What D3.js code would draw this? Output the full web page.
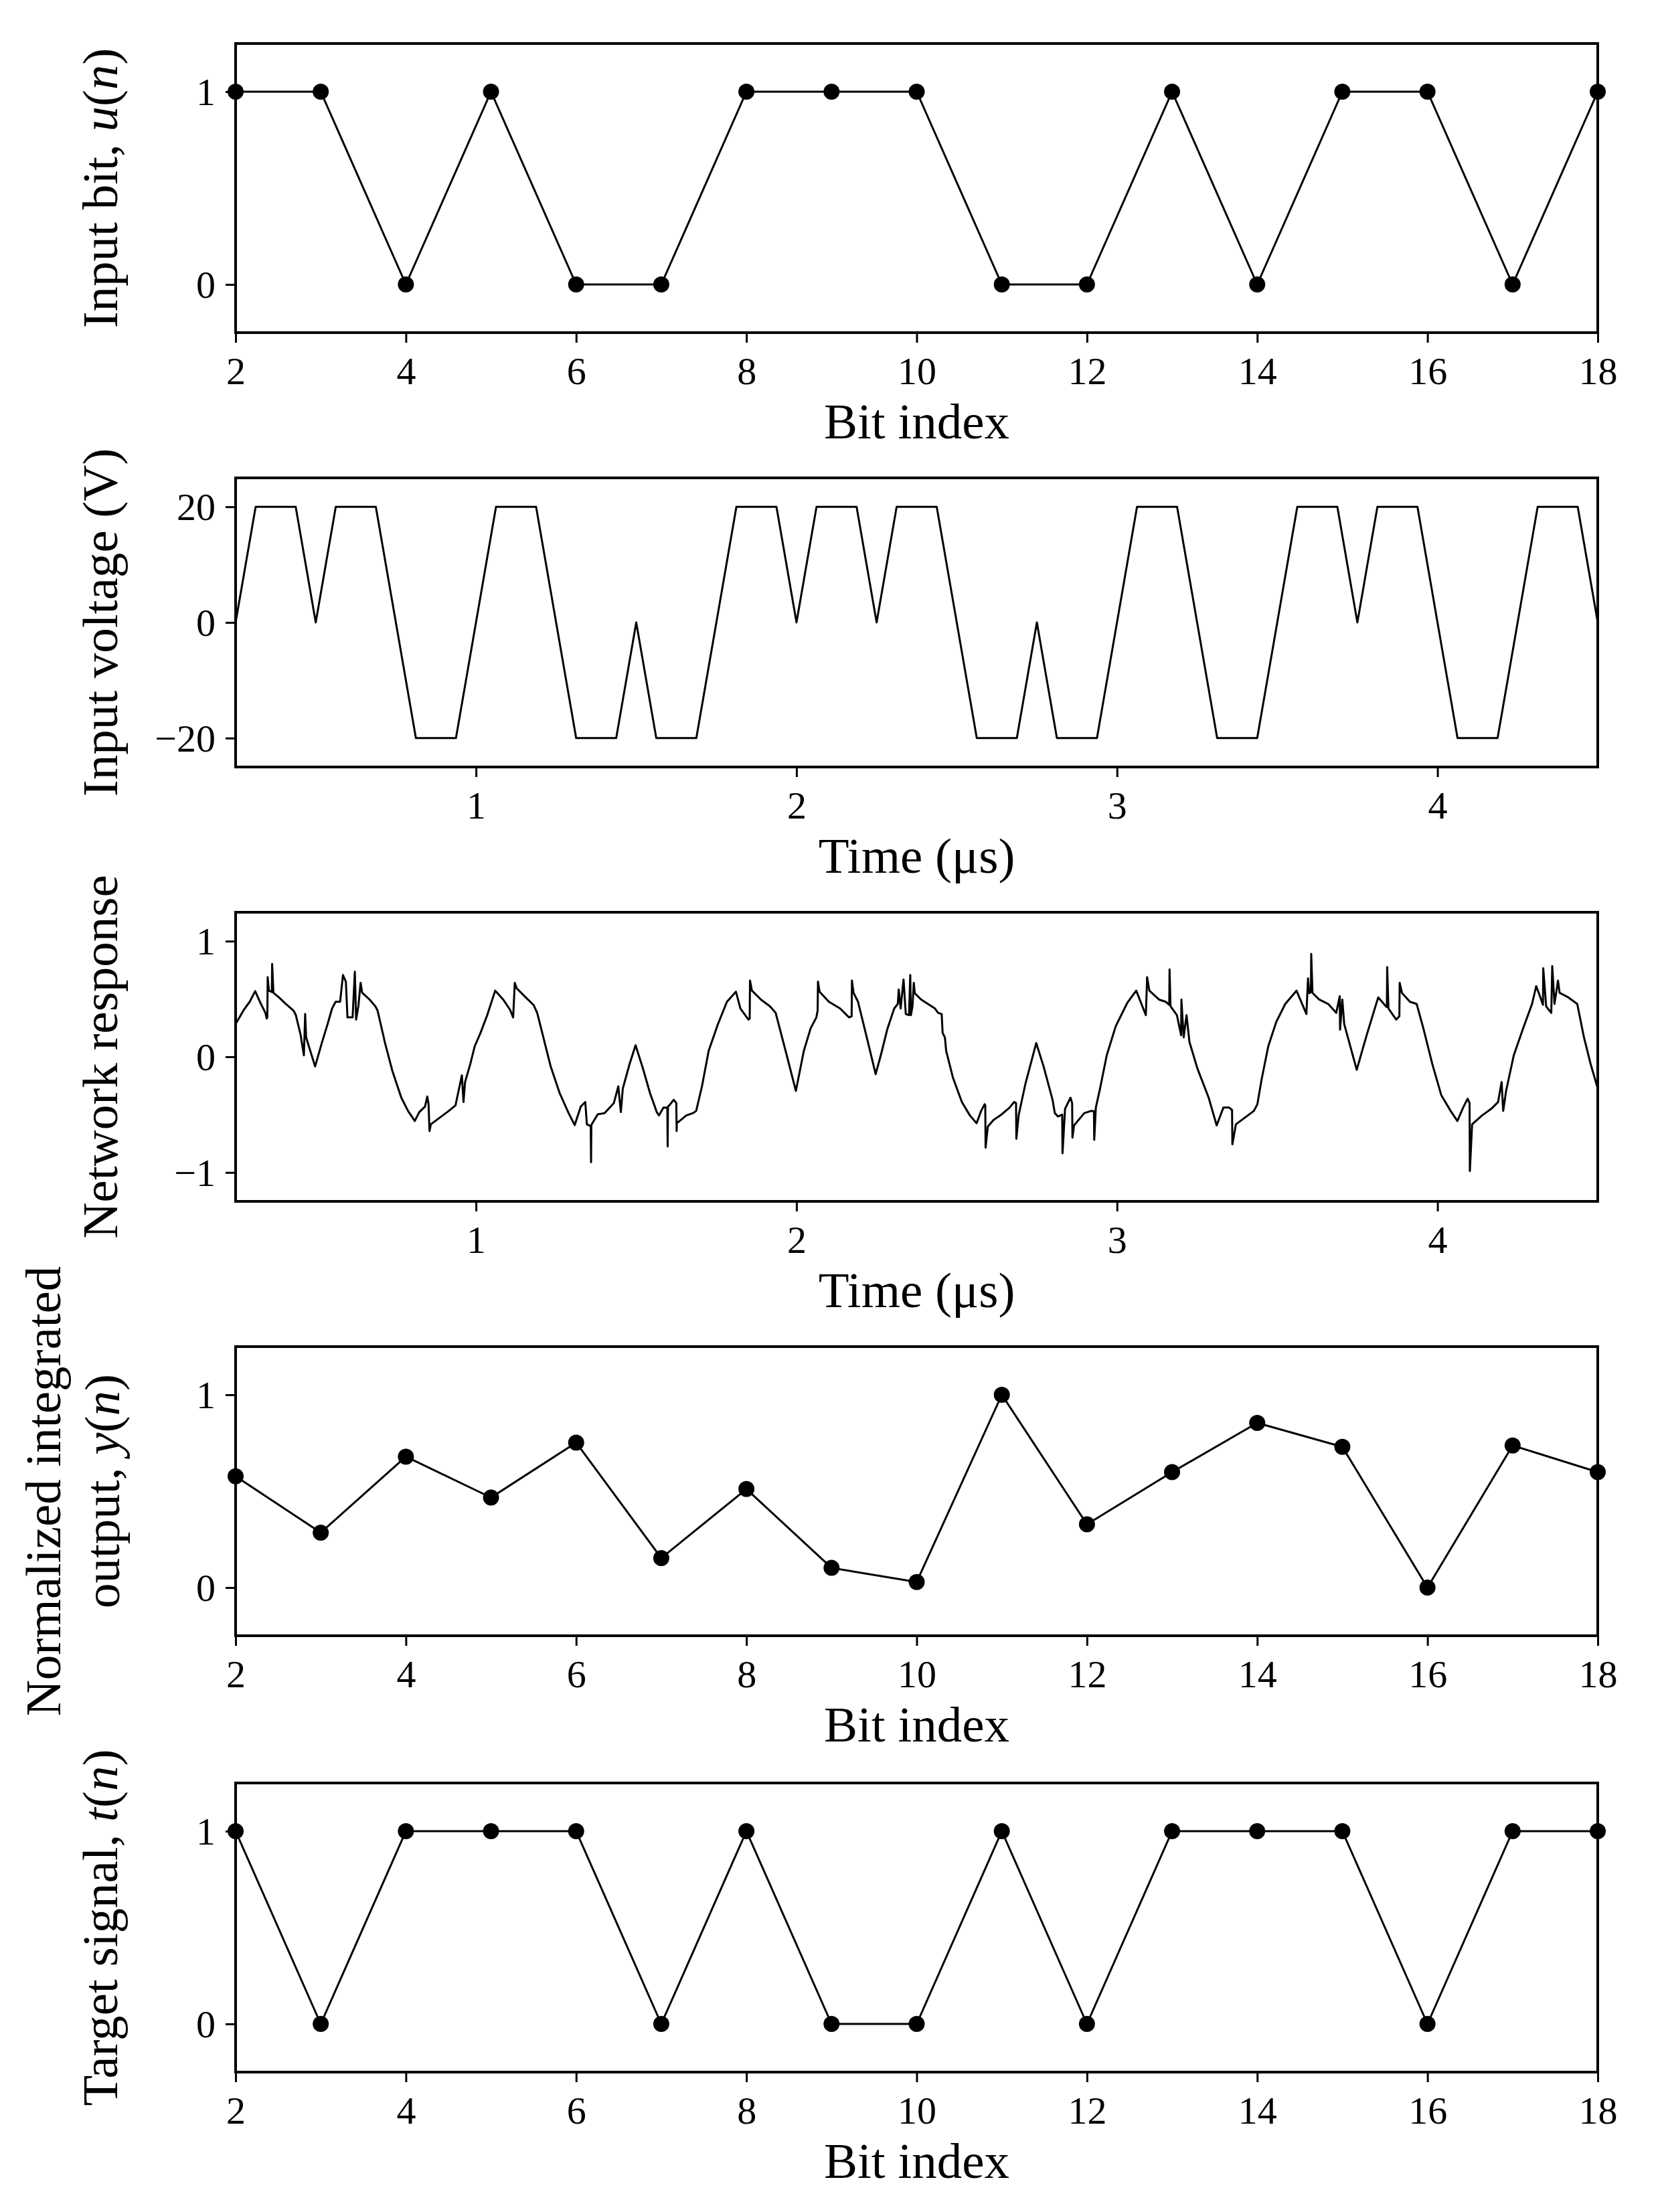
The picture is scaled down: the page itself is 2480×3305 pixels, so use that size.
<!DOCTYPE html>
<html>
<head>
<meta charset="utf-8">
<script src="https://cdn.jsdelivr.net/npm/d3@7"></script>
<style>
  html, body { margin: 0; padding: 0; background: #fff; }
  svg { display: block; }
  text { font-family: "Liberation Serif", "Times New Roman", serif; fill: #000; }
</style>
</head>
<body>
<svg id="chart" width="2480" height="3305"></svg>
<script>
// ---------------- DATA ----------------
const bitIndex = [2, 3, 4, 5, 6, 7, 8, 9, 10, 11, 12, 13, 14, 15, 16, 17, 18];
const inputBits = [1, 1, 0, 1, 0, 0, 1, 1, 1, 0, 0, 1, 0, 1, 1, 0, 1];
const integratedOutput = [0.577, 0.285, 0.679, 0.467, 0.752, 0.153, 0.511, 0.102, 0.029, 1.0, 0.328, 0.599, 0.854, 0.730, 0.0, 0.737, 0.599];
const targetSignal = [1, 0, 1, 1, 1, 0, 1, 0, 0, 1, 0, 1, 1, 1, 0, 1, 1];

const voltTime = [0.25, 0.3125, 0.4375, 0.5, 0.5625, 0.6875, 0.75, 0.8125, 0.9375, 1.0,
  1.0625, 1.1875, 1.25, 1.3125, 1.4375, 1.5, 1.5625, 1.6875, 1.75, 1.8125, 1.9375, 2.0,
  2.0625, 2.1875, 2.25, 2.3125, 2.4375, 2.5, 2.5625, 2.6875, 2.75, 2.8125, 2.9375, 3.0,
  3.0625, 3.1875, 3.25, 3.3125, 3.4375, 3.5, 3.5625, 3.6875, 3.75, 3.8125, 3.9375, 4.0,
  4.0625, 4.1875, 4.25, 4.3125, 4.4375, 4.5];
const voltValue = [0, 20, 20, 0, 20, 20, 0, -20, -20, 0,
  20, 20, 0, -20, -20, 0, -20, -20, 0, 20, 20, 0,
  20, 20, 0, 20, 20, 0, -20, -20, 0, -20, -20, 0,
  20, 20, 0, -20, -20, 0, 20, 20, 0, 20, 20, 0,
  -20, -20, 0, 20, 20, 0];

const respTime = [
  0.250, 0.276, 0.294, 0.311, 0.329, 0.343, 0.347, 0.349, 0.350, 0.354, 0.363, 0.364, 0.368, 0.385, 0.407, 0.431, 0.438, 0.453, 0.463, 0.467, 0.470, 0.498,
  0.520, 0.537, 0.551, 0.562, 0.576, 0.585, 0.594, 0.599, 0.615, 0.622, 0.626, 0.633, 0.640, 0.645, 0.668, 0.686, 0.693, 0.717, 0.739, 0.767, 0.788, 0.809,
  0.823, 0.841, 0.848, 0.852, 0.855, 0.859, 0.887, 0.915, 0.936, 0.950, 0.956, 0.961, 0.966, 0.982, 0.996, 1.014, 1.035, 1.060, 1.085, 1.106, 1.116, 1.121,
  1.127, 1.155, 1.180, 1.191, 1.212, 1.233, 1.261, 1.289, 1.308,
  1.327, 1.341, 1.346, 1.358, 1.359, 1.360, 1.363, 1.380, 1.401, 1.430, 1.444, 1.452, 1.458, 1.479, 1.498, 1.521, 1.543, 1.564, 1.571, 1.585, 1.597, 1.598,
  1.599, 1.603, 1.617, 1.625, 1.626, 1.627, 1.631, 1.656, 1.677, 1.687, 1.705, 1.726, 1.755, 1.783, 1.811, 1.825, 1.850, 1.854, 1.855, 1.861, 1.889, 1.917,
  1.935, 1.966, 1.998, 2.023, 2.044, 2.062, 2.066, 2.067, 2.072, 2.101, 2.136, 2.164, 2.172, 2.173, 2.178, 2.192, 2.221, 2.247, 2.263, 2.284, 2.305, 2.316,
  2.319, 2.325, 2.334, 2.341, 2.351, 2.355, 2.357, 2.362, 2.366, 2.369, 2.389, 2.410, 2.432, 2.442, 2.453, 2.456, 2.463, 2.467, 2.488, 2.516, 2.541, 2.562,
  2.576, 2.587, 2.589, 2.590, 2.597, 2.615, 2.636, 2.665, 2.679, 2.685, 2.686, 2.693, 2.714, 2.748, 2.771, 2.799, 2.806, 2.816, 2.829, 2.830, 2.838, 2.855,
  2.860, 2.861, 2.866, 2.898, 2.919, 2.928, 2.929, 2.934, 2.947, 2.968, 2.996, 3.032, 3.060, 3.090, 3.094, 3.101, 3.131, 3.152, 3.163, 3.164, 3.167, 3.187,
  3.200, 3.201, 3.208, 3.217, 3.226, 3.251, 3.286, 3.311, 3.332, 3.350, 3.359, 3.360, 3.371, 3.399, 3.427, 3.438, 3.451, 3.472, 3.497, 3.525, 3.560, 3.591,
  3.596, 3.600, 3.605, 3.606, 3.610, 3.631, 3.659, 3.684, 3.695, 3.696, 3.703, 3.709, 3.748, 3.779, 3.815, 3.839, 3.842, 3.843, 3.847, 3.871, 3.881, 3.882,
  3.889, 3.914, 3.935, 3.956, 3.984, 4.012, 4.041, 4.062, 4.080, 4.094, 4.100, 4.101, 4.108, 4.139, 4.168, 4.189, 4.200, 4.205, 4.214, 4.238, 4.267, 4.295,
  4.308, 4.316, 4.329, 4.330, 4.339, 4.344, 4.355, 4.358, 4.365, 4.376, 4.381, 4.408, 4.436, 4.457, 4.478, 4.496, 4.500];
const respValue = [
  0.283, 0.408, 0.476, 0.568, 0.457, 0.380, 0.331, 0.340, 0.688, 0.572, 0.560, 0.803, 0.553, 0.514, 0.457, 0.399, 0.360, 0.187, 0.013, 0.370, 0.168, -0.083,
  0.129, 0.283, 0.418, 0.476, 0.476, 0.707, 0.649, 0.341, 0.341, 0.736, 0.322, 0.437, 0.640, 0.553, 0.495, 0.437, 0.399, 0.110, -0.121, -0.353, -0.468, -0.555,
  -0.478, -0.430, -0.343, -0.410, -0.642, -0.584, -0.526, -0.468, -0.420, -0.237, -0.160, -0.391, -0.218, -0.064, 0.091, 0.206, 0.360, 0.572, 0.495, 0.408, 0.341, 0.640,
  0.592, 0.514, 0.447, 0.380, 0.148, -0.083, -0.314, -0.487, -0.590,
  -0.430, -0.391, -0.584, -0.600, -0.911, -0.590, -0.574, -0.497, -0.487, -0.401, -0.256, -0.478, -0.276, -0.064, 0.100, -0.102, -0.314, -0.478, -0.507, -0.439, -0.440, -0.776,
  -0.430, -0.420, -0.372, -0.400, -0.642, -0.560, -0.565, -0.507, -0.487, -0.468, -0.256, 0.052, 0.283, 0.476, 0.563, 0.418, 0.322, 0.330, 0.659, 0.572, 0.495, 0.437,
  0.380, 0.052, -0.295, 0.052, 0.245, 0.341, 0.400, 0.649, 0.563, 0.476, 0.418, 0.341, 0.350, 0.659, 0.553, 0.476, 0.148, -0.150, 0.013, 0.245, 0.418, 0.457,
  0.582, 0.418, 0.669, 0.370, 0.360, 0.707, 0.360, 0.437, 0.640, 0.550, 0.495, 0.457, 0.418, 0.380, 0.370, 0.206, 0.168, 0.052, -0.179, -0.391, -0.507, -0.574,
  -0.468, -0.410, -0.420, -0.786, -0.603, -0.545, -0.507, -0.439, -0.391, -0.400, -0.709, -0.507, -0.237, 0.119, -0.083, -0.372, -0.487, -0.516, -0.500, -0.834, -0.449, -0.353,
  -0.400, -0.699, -0.593, -0.487, -0.468, -0.470, -0.718, -0.439, -0.276, 0.013, 0.264, 0.466, 0.572, 0.360, 0.688, 0.572, 0.495, 0.476, 0.450, 0.755, 0.437, 0.360,
  0.187, 0.495, 0.168, 0.360, 0.129, -0.102, -0.353, -0.593, -0.439, -0.439, -0.460, -0.757, -0.584, -0.526, -0.468, -0.410, -0.198, 0.091, 0.302, 0.457, 0.572, 0.370,
  0.678, 0.550, 0.560, 0.890, 0.553, 0.495, 0.457, 0.380, 0.524, 0.235, 0.495, 0.283, -0.112, 0.187, 0.514, 0.437, 0.430, 0.775, 0.418, 0.322, 0.350, 0.640,
  0.553, 0.476, 0.457, 0.245, -0.064, -0.333, -0.468, -0.555, -0.439, -0.362, -0.400, -0.988, -0.584, -0.507, -0.449, -0.391, -0.218, -0.468, -0.295, 0.013, 0.245, 0.457,
  0.611, 0.553, 0.450, 0.765, 0.437, 0.418, 0.380, 0.784, 0.457, 0.659, 0.553, 0.514, 0.457, 0.168, -0.064, -0.237, -0.270];

const bitTicks = [2, 4, 6, 8, 10, 12, 14, 16, 18];
const timeTicks = [1, 2, 3, 4];
const binaryTicks = [0, 1];
const voltTicks = [-20, 0, 20];
const respTicks = [-1, 0, 1];

// ---------------- LAYOUT ----------------
const svg = d3.select("#chart");
svg.append("rect").attr("width", 2480).attr("height", 3305).attr("fill", "#fff");

const L = 352, R = 2387, H = 432;
const tops = [65, 714, 1363, 2012, 2664];
const TICK_FS = 58, LABEL_FS = 75;

function makePanel(i, cfg) {
  const top = tops[i];
  const g = svg.append("g");
  const x = d3.scaleLinear().domain(cfg.xDomain).range([L, R]);
  const y = d3.scaleLinear().domain(cfg.yDomain).range([top + H, top]);

  // x axis
  const xa = g.append("g").attr("transform", `translate(0,${top + H})`)
    .call(d3.axisBottom(x).tickValues(cfg.xTicks).tickSize(15).tickFormat(d3.format("d")));
  xa.select(".domain").remove();
  xa.selectAll(".tick line").attr("stroke", "#000").attr("stroke-width", 3);
  xa.selectAll(".tick text").attr("y", 77).attr("dy", 0)
    .style("font-family", "Liberation Serif").style("font-size", TICK_FS + "px").attr("fill", "#000");

  // y axis
  const ya = g.append("g").attr("transform", `translate(${L},0)`)
    .call(d3.axisLeft(y).tickValues(cfg.yTicks).tickSize(15).tickPadding(15).tickFormat(d3.format("d")));
  ya.select(".domain").remove();
  ya.selectAll(".tick line").attr("stroke", "#000").attr("stroke-width", 3);
  ya.selectAll(".tick text").attr("dy", "0.34em")
    .style("font-family", "Liberation Serif").style("font-size", TICK_FS + "px").attr("fill", "#000");

  // data line
  const pts = cfg.xs.map((d, k) => [d, cfg.ys[k]]);
  g.append("path").datum(pts)
    .attr("fill", "none").attr("stroke", "#000").attr("stroke-width", 3)
    .attr("stroke-linejoin", "round")
    .attr("d", d3.line().x(d => x(d[0])).y(d => y(d[1])));
  if (cfg.markers) {
    g.selectAll("circle.m").data(pts).enter().append("circle")
      .attr("cx", d => x(d[0])).attr("cy", d => y(d[1])).attr("r", 12).attr("fill", "#000");
  }

  // frame
  g.append("rect").attr("x", L).attr("y", top).attr("width", R - L).attr("height", H)
    .attr("fill", "none").attr("stroke", "#000").attr("stroke-width", 4);

  // x label
  g.append("text").attr("x", (L + R) / 2).attr("y", top + H + 158)
    .attr("text-anchor", "middle").style("font-size", LABEL_FS + "px").text(cfg.xLabel);

  // y label
  const cy = top + H / 2;
  cfg.yLabel.forEach((line, li) => {
    const t = g.append("text")
      .attr("transform", `translate(${cfg.yLabelX[li]},${cy}) rotate(-90)`)
      .attr("text-anchor", "middle").style("font-size", LABEL_FS + "px");
    line.forEach(seg => {
      t.append("tspan").attr("font-style", seg[1] ? "italic" : "normal").text(seg[0]);
    });
  });
}

makePanel(0, {
  xDomain: [2, 18], yDomain: [-0.25, 1.25], xTicks: bitTicks, yTicks: binaryTicks,
  xs: bitIndex, ys: inputBits, markers: true, xLabel: "Bit index",
  yLabel: [[["Input bit, ", false], ["u", true], ["(", false], ["n", true], [")", false]]], yLabelX: [175]
});
makePanel(1, {
  xDomain: [0.25, 4.5], yDomain: [-25, 25], xTicks: timeTicks, yTicks: voltTicks,
  xs: voltTime, ys: voltValue, markers: false, xLabel: "Time (\u03BCs)",
  yLabel: [[["Input voltage (V)", false]]], yLabelX: [175]
});
makePanel(2, {
  xDomain: [0.25, 4.5], yDomain: [-1.25, 1.25], xTicks: timeTicks, yTicks: respTicks,
  xs: respTime, ys: respValue, markers: false, xLabel: "Time (\u03BCs)",
  yLabel: [[["Network response", false]]], yLabelX: [175]
});
makePanel(3, {
  xDomain: [2, 18], yDomain: [-0.25, 1.25], xTicks: bitTicks, yTicks: binaryTicks,
  xs: bitIndex, ys: integratedOutput, markers: true, xLabel: "Bit index",
  yLabel: [[["Normalized integrated", false]],
           [["output, ", false], ["y", true], ["(", false], ["n", true], [")", false]]],
  yLabelX: [90, 178]
});
makePanel(4, {
  xDomain: [2, 18], yDomain: [-0.25, 1.25], xTicks: bitTicks, yTicks: binaryTicks,
  xs: bitIndex, ys: targetSignal, markers: true, xLabel: "Bit index",
  yLabel: [[["Target signal, ", false], ["t", true], ["(", false], ["n", true], [")", false]]], yLabelX: [175]
});
</script>
</body>
</html>
